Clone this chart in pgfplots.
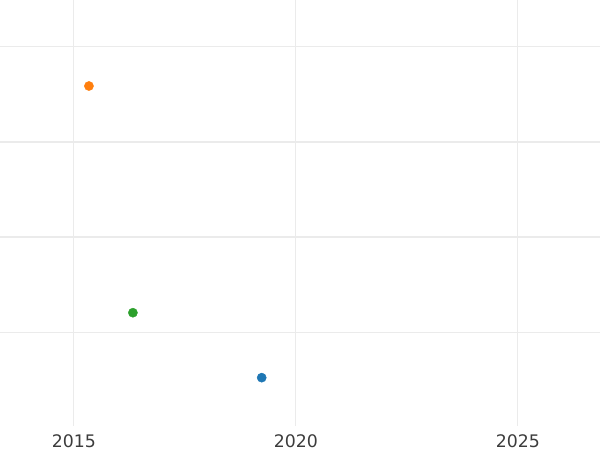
\documentclass[border=0pt]{standalone}
\usepackage{fontspec}
\setmainfont{DejaVu Sans}
\usepackage{pgfplots}
\pgfplotsset{compat=1.18}
\definecolor{tabblue}{HTML}{1F77B4}
\definecolor{taborange}{HTML}{FF7F0E}
\definecolor{tabgreen}{HTML}{2CA02C}
\definecolor{gridgray}{HTML}{EBEBEB}
\definecolor{ticktext}{RGB}{60,60,60}

\begin{document}
\begin{tikzpicture}
\begin{axis}[
  scale only axis,
  width=600bp, height=426bp,
  at={(0,0)}, anchor=south west,
  xmin=2013.3375, xmax=2026.8475,
  ymin=0.0205, ymax=4.493,
  axis line style={draw=none},
  major tick length=0pt,
  xtick={2015,2020,2025},
  xticklabels={2015,2020,2025},
  ytick={1,4}, yticklabels={},
  extra y ticks={2,3}, extra y tick labels={},
  extra y tick style={grid style={gridgray, line width=2bp}},
  grid=major,
  grid style={gridgray, line width=1bp},
  xticklabel style={font=\fontsize{17.3bp}{20bp}\selectfont, text=ticktext, anchor=base, yshift=-21bp, inner sep=0pt},
  clip=false,
]
\addplot[only marks, mark=*, mark size=4.6bp, color=taborange] coordinates {(2015.34,3.59)};
\addplot[only marks, mark=*, mark size=4.6bp, color=tabgreen] coordinates {(2016.33,1.21)};
\addplot[only marks, mark=*, mark size=4.6bp, color=tabblue] coordinates {(2019.23,0.528)};
\end{axis}
\pgfresetboundingbox
\useasboundingbox (0,-24bp) rectangle (600bp,426bp);
\end{tikzpicture}
\end{document}
